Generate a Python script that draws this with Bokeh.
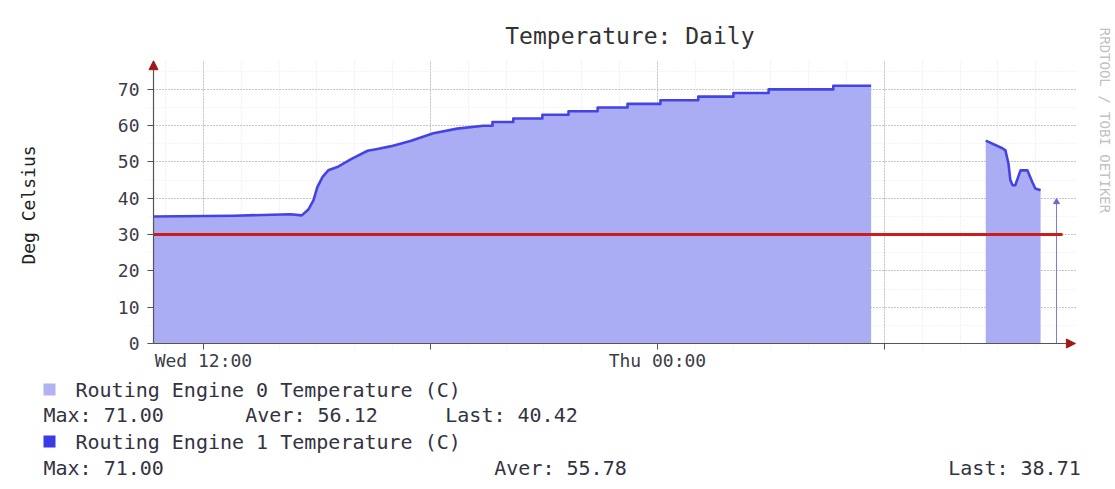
import math
from bokeh.plotting import figure
from bokeh.layouts import column, row
from bokeh.models import Range1d, FixedTicker, Arrow, NormalHead
from bokeh.core.properties import value
from bokeh.embed import file_html
from bokeh.resources import INLINE

# ---- data (x = hours since Wed 00:00) ----
window_start, window_end = 10.68, 34.71
hours = [10.68, 12.80, 14.30, 14.60, 14.78, 14.91, 15.01, 15.15, 15.30, 15.54,
         15.89, 16.34, 16.60, 16.94, 17.47, 18.08, 18.71, 19.40,
         19.64, 19.64, 20.19, 20.19, 20.96, 20.96, 21.65, 21.65, 22.42, 22.42,
         23.21, 23.21, 24.08, 24.08, 25.08, 25.08, 26.01, 26.01, 26.94, 26.94,
         28.65, 28.65, 29.65,
         31.00,
         32.68, 33.12, 33.20, 33.28, 33.33, 33.39, 33.46, 33.60, 33.78, 33.91,
         33.99, 34.13]
temp_re0 = [35.0, 35.2, 35.6, 35.3, 37.0, 39.5, 43.1, 45.9, 47.7, 48.6,
            50.7, 53.1, 53.6, 54.3, 55.8, 57.9, 59.2, 60.0,
            60.0, 61.0, 61.0, 62.0, 62.0, 63.0, 63.0, 64.0, 64.0, 65.0,
            65.0, 66.0, 66.0, 67.0, 67.0, 68.0, 68.0, 69.0, 69.0, 70.0,
            70.0, 71.0, 71.0,
            float("nan"),
            55.9, 53.8, 53.2, 49.6, 45.0, 43.6, 43.6, 47.7, 47.7, 44.5,
            42.7, 42.2]
temp_re1 = list(temp_re0)
spike_hour = [34.55]
spike_temp = [39.0]
threshold = 30

y_ticks = [0, 10, 20, 30, 40, 50, 60, 70]
x_ticks = [12, 18, 24, 30]
x_tick_labels = {12: "Wed 12:00", 18: "", 24: "Thu 00:00", 30: ""}

title_text = "Temperature: Daily"
y_label = "Deg Celsius"
legend_names = ["Routing Engine 0 Temperature (C)", "Routing Engine 1 Temperature (C)"]
stats_re0 = ["Max: 71.00", "Aver: 56.12", "Last: 40.42"]
stats_re1 = ["Max: 71.00", "Aver: 55.78", "Last: 38.71"]
credit = "RRDTOOL / TOBI OETIKER"

AREA_COLOR = "#aaadf4"
LINE_COLOR = "#4444e2"
SWATCH_COLORS = ["#b2b4f2", "#3a3ae6"]
TEXT_COLOR = "#33333f"
AXIS_COLOR = "#555555"
ARROW_RED = "#a01818"
MONO = "DejaVu Sans Mono"

# ---- layout (page pixels) ----
TOTAL_W = 1112
MAIN_W, MAIN_H = 1092, 319
TITLE_H = 60
LEG_TOP, LEG_BOTTOM = 379, 486


def blank_fig(w, h, x0, x1, y0, y1):
    f = figure(width=w, height=h, x_range=Range1d(x0, x1), y_range=Range1d(y0, y1),
               x_axis_type=None, y_axis_type=None, output_backend="svg",
               toolbar_location=None, min_border=0)
    f.outline_line_color = None
    f.background_fill_color = "white"
    f.border_fill_color = "white"
    return f


# title strip
tfig = blank_fig(MAIN_W, TITLE_H, 0, MAIN_W, TITLE_H, 0)
tfig.text(x=[567], y=[35], text=[title_text], text_font=value(MONO),
          text_font_size="23px", text_color="#333333", text_align="center",
          text_baseline="middle")

# main plot
p = figure(width=MAIN_W, height=MAIN_H, output_backend="svg", toolbar_location=None,
           x_range=Range1d(10.521, 35.079), y_range=Range1d(-1.653, 77.96),
           min_border_left=147, min_border_right=16, min_border_top=0,
           min_border_bottom=30)
p.outline_line_color = None
p.background_fill_color = "white"
p.border_fill_color = "white"

seg_x, seg_y = [], []
for h, v in zip(hours, temp_re0):
    if math.isnan(v):
        if seg_x:
            p.varea(x=seg_x, y1=[0] * len(seg_x), y2=seg_y, fill_color=AREA_COLOR)
        seg_x, seg_y = [], []
    else:
        seg_x.append(h)
        seg_y.append(v)
if seg_x:
    p.varea(x=seg_x, y1=[0] * len(seg_x), y2=seg_y, fill_color=AREA_COLOR)

p.line(hours, temp_re1, line_color=LINE_COLOR, line_width=2.6, line_join="round")
p.segment(x0=spike_hour, y0=[0], x1=spike_hour, y1=spike_temp,
          line_color="#7c7cd8", line_width=1)
p.scatter(spike_hour, spike_temp, marker="triangle", size=6, color="#6a6ad4")
p.segment(x0=[window_start], y0=[threshold], x1=[window_end], y1=[threshold],
          line_color="#cc1c1c", line_width=3)

p.xaxis.ticker = FixedTicker(ticks=x_ticks, minor_ticks=list(range(11, 35)))
p.xaxis.major_label_overrides = x_tick_labels
p.yaxis.ticker = FixedTicker(ticks=y_ticks, minor_ticks=list(range(5, 76, 5)))
for ax in (p.xaxis, p.yaxis):
    ax.axis_line_color = None
    ax.major_tick_line_color = AXIS_COLOR
    ax.major_tick_out = 0
    ax.major_tick_in = 6
    ax.minor_tick_out = 0
    ax.minor_tick_in = 0
    ax.major_label_text_font = MONO
    ax.major_label_text_font_size = "18px"
    ax.major_label_text_color = "#3c3c48"
p.xaxis.major_label_standoff = 0
p.yaxis.major_label_standoff = 8
p.yaxis.axis_label = y_label
p.yaxis.axis_label_text_font = MONO
p.yaxis.axis_label_text_font_size = "18px"
p.yaxis.axis_label_text_font_style = "normal"
p.yaxis.axis_label_text_color = "#222222"
p.yaxis.axis_label_standoff = 76

p.xgrid.grid_line_color = "#c4c4c4"
p.xgrid.grid_line_dash = "2 1"
p.ygrid.grid_line_color = "#999999"
p.ygrid.grid_line_dash = "1 2"
p.xgrid.minor_grid_line_color = "#e4e4e4"
p.xgrid.minor_grid_line_dash = "1 2"
p.ygrid.minor_grid_line_color = "#e8e8e8"
p.ygrid.minor_grid_line_dash = "1 2"

# axis lines with arrow heads (drawn at y = 0 and x = window start)
p.add_layout(Arrow(end=NormalHead(size=9, fill_color=ARROW_RED, line_color=ARROW_RED),
                   x_start=window_start, y_start=0, x_end=window_start, y_end=77.9,
                   line_color=AXIS_COLOR, line_width=1.2))
p.add_layout(Arrow(end=NormalHead(size=9, fill_color=ARROW_RED, line_color=ARROW_RED),
                   x_start=window_start, y_start=0, x_end=35.05, y_end=0,
                   line_color=AXIS_COLOR, line_width=1.2))

# credit strip on the right
cfig = blank_fig(TOTAL_W - MAIN_W, TITLE_H + MAIN_H, MAIN_W, TOTAL_W, TITLE_H + MAIN_H, 0)
cfig.text(x=[1104], y=[120], text=[credit], text_font=value(MONO),
          text_font_size="14px", text_color="#c2c2c2", text_align="center",
          text_baseline="middle", angle=-math.pi / 2)

# legend strip
leg = blank_fig(TOTAL_W, LEG_BOTTOM - LEG_TOP, 0, TOTAL_W, LEG_BOTTOM, LEG_TOP)
leg.rect(x=[49, 49], y=[389, 441], width=12, height=12, fill_color=SWATCH_COLORS,
         line_color=None)
leg.text(x=[75, 75, 43, 43], y=[389, 441, 414, 467],
         text=[legend_names[0], legend_names[1], stats_re0[0], stats_re1[0]],
         text_font=value(MONO), text_font_size="20px", text_color=TEXT_COLOR,
         text_align="left", text_baseline="middle")
leg.text(x=[311, 511, 560, 1014], y=[414, 414, 467, 467],
         text=[stats_re0[1], stats_re0[2], stats_re1[1], stats_re1[2]],
         text_font=value(MONO), text_font_size="20px", text_color=TEXT_COLOR,
         text_align="center", text_baseline="middle")

layout = column(row(column(tfig, p), cfig), leg)
open("out.html", "w").write(file_html(layout, INLINE))
